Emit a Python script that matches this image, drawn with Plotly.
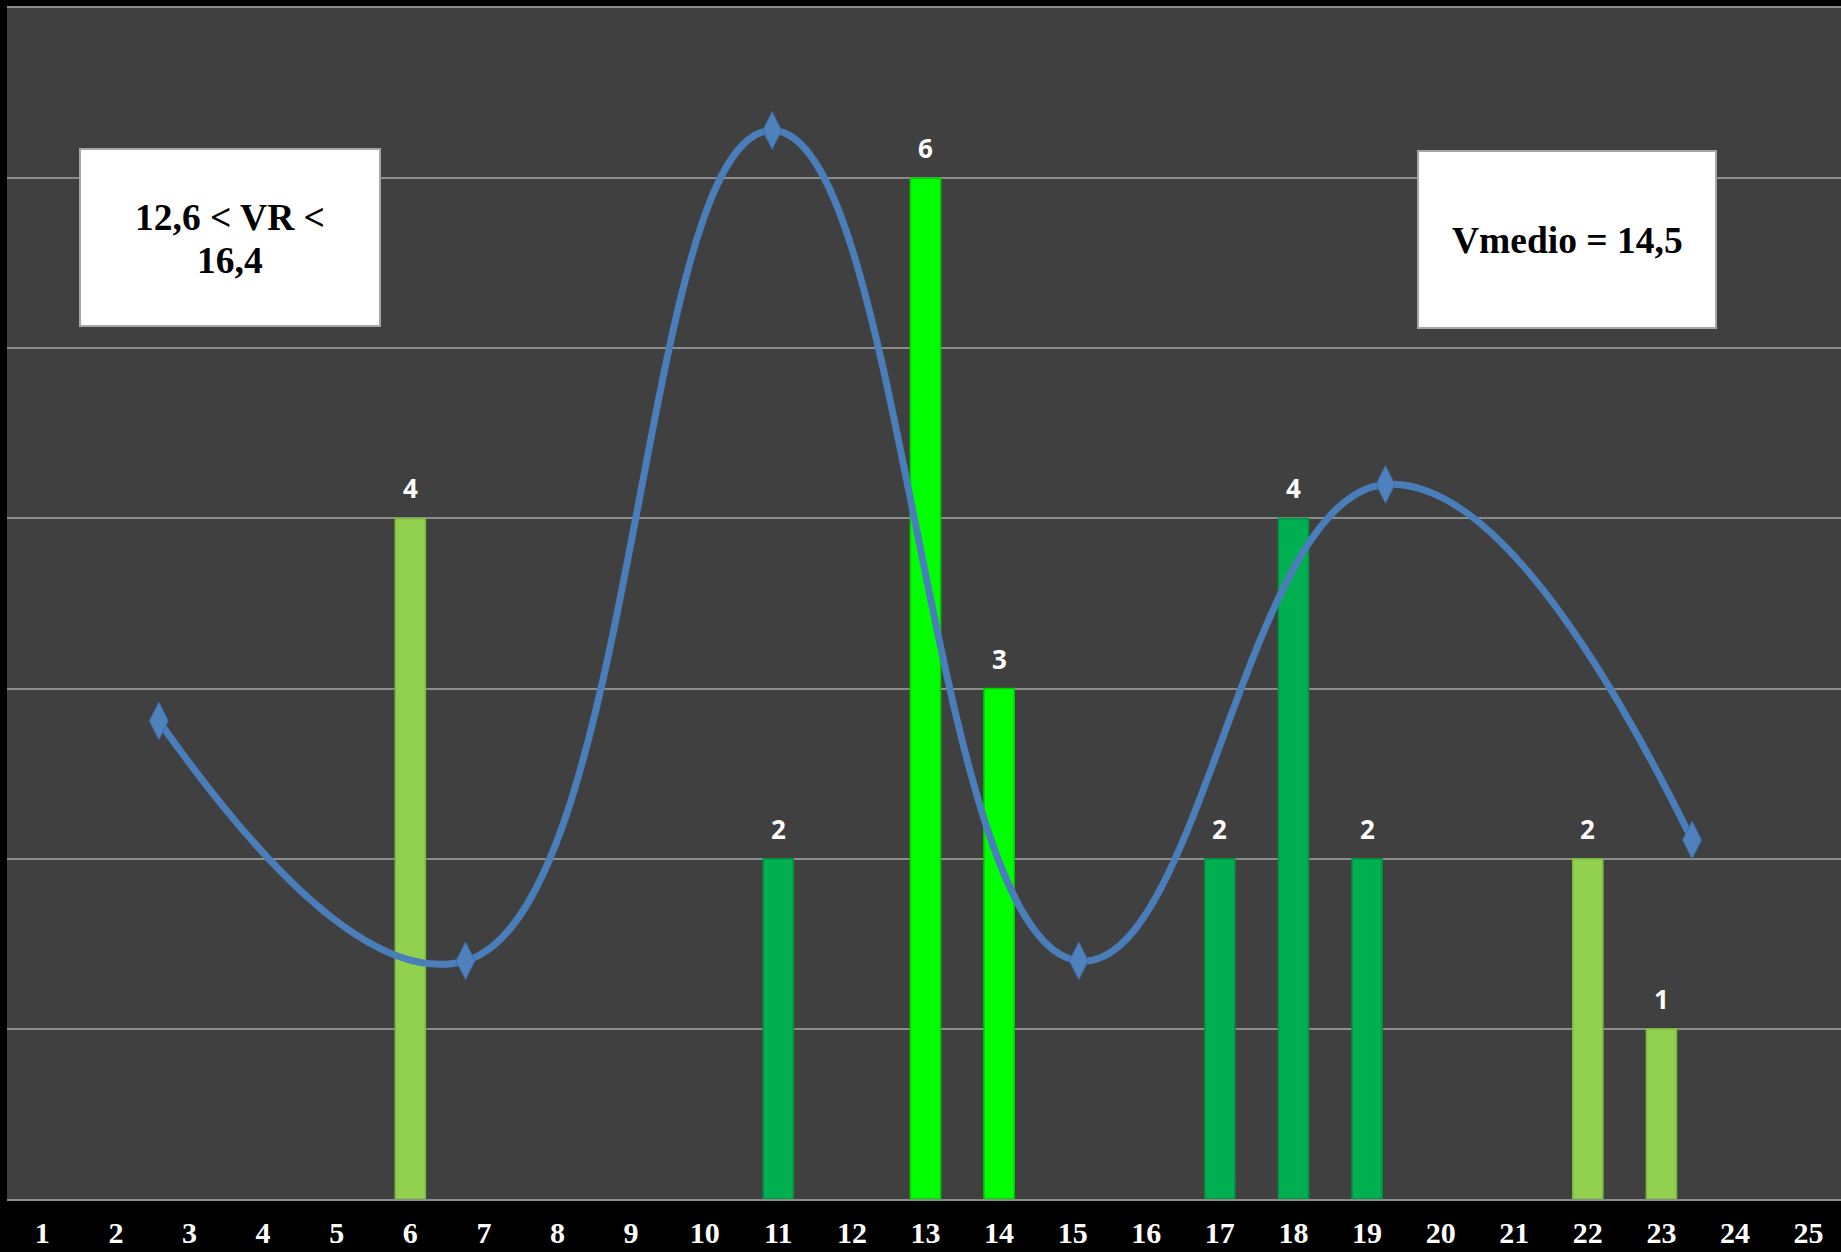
import plotly.graph_objects as go

# ---- data ----
categories = list(range(1, 26))
bar_values = [None, None, None, None, None, 4, None, None, None, None, 2, None, 6, 3,
              None, None, 2, 4, 2, None, None, 2, 1, None, None]
bar_colors = ["#92D050"] * 25
for c in (11, 17, 18, 19):
    bar_colors[c - 1] = "#00B050"
for c in (13, 14):
    bar_colors[c - 1] = "#00FF00"
edge_colors = {"#92D050": "#7AB83A", "#00B050": "#00903F", "#00FF00": "#00D000"}

line_x = [1, 2, 3, 4, 5, 6]
line_values = [2.81, 1.40, 6.28, 1.40, 4.20, 2.11]

box_left_lines = ["12,6 &lt; VR &lt;", "16,4"]
box_right_text = "Vmedio = 14,5"

# axis ranges (primary categories 1..25, secondary 6 groups spanning same width)
x_range = [0.52, 25.44]
x2_range = [0.5 + (x_range[0] - 0.5) * 6 / 25, 0.5 + (x_range[1] - 0.5) * 6 / 25]

# ---- figure ----
fig = go.Figure()

fig.add_trace(go.Bar(
    x=categories,
    y=bar_values,
    width=0.41,
    marker=dict(color=bar_colors,
                line=dict(color=[edge_colors[c] for c in bar_colors], width=1.5)),
    hoverinfo="skip",
))

fig.add_trace(go.Scatter(
    x=line_x,
    y=line_values,
    xaxis="x2",
    yaxis="y",
    mode="lines+markers",
    line=dict(color="#4A7EBB", width=7, shape="spline", smoothing=1.3),
    marker=dict(symbol="diamond-tall", size=27, color="#4F81BD",
                line=dict(color="#3B6AA8", width=1)),
    hoverinfo="skip",
))

annotations = []
for cat, v in zip(categories, bar_values):
    if v:
        annotations.append(dict(
            x=cat, y=v, xref="x", yref="y", text=str(v), showarrow=False,
            yanchor="middle", yshift=30,
            font=dict(family="Open Sans", size=26, color="white", weight="bold"),
        ))

box_font = dict(family="Liberation Serif", size=37.5, color="black", weight="bold")

# left box (frame) + two text lines
annotations.append(dict(
    x=0.1216, y=0.8073, xref="paper", yref="paper", xanchor="center", yanchor="middle",
    text=" ", showarrow=False,
    bgcolor="white", bordercolor="#A6A6A6", borderwidth=2, borderpad=0,
    width=298, height=175, font=box_font,
))
for yy, t in zip([0.8245, 0.7876], box_left_lines):
    annotations.append(dict(
        x=0.1216, y=yy, xref="paper", yref="paper", xanchor="center", yanchor="middle",
        text=t, showarrow=False, font=box_font,
    ))

# right box
annotations.append(dict(
    x=0.8506, y=0.8056, xref="paper", yref="paper", xanchor="center", yanchor="middle",
    text=" ", showarrow=False,
    bgcolor="white", bordercolor="#A6A6A6", borderwidth=2, borderpad=0,
    width=296, height=175, font=box_font,
))
annotations.append(dict(
    x=0.8506, y=0.8046, xref="paper", yref="paper", xanchor="center", yanchor="middle",
    text=box_right_text, showarrow=False, font=box_font,
))

fig.update_layout(
    width=1841, height=1252,
    margin=dict(l=7, r=0, t=8, b=53, autoexpand=False),
    paper_bgcolor="black",
    plot_bgcolor="#404040",
    showlegend=False,
    annotations=annotations,
    xaxis=dict(
        range=x_range, tickmode="array", tickvals=categories,
        ticktext=[str(c) for c in categories],
        showgrid=False, zeroline=False, automargin=False,
        showline=True, linecolor="#8C8C8C", linewidth=2, mirror=True,
        ticks="", ticklabelstandoff=6,
        tickfont=dict(family="Liberation Serif", size=30, color="white", weight="bold"),
    ),
    xaxis2=dict(
        overlaying="x", range=x2_range, visible=False, automargin=False,
    ),
    yaxis=dict(
        range=[0, 7], dtick=1, showticklabels=False, automargin=False,
        showgrid=True, gridcolor="#8C8C8C", gridwidth=2,
        zeroline=False,
    ),
)

post = (
    "document.documentElement.style.margin='0';"
    "document.documentElement.style.overflow='hidden';"
    "document.body.style.margin='0';"
    "document.body.style.overflow='hidden';"
    "document.body.style.background='black';"
)
fig.write_html("out.html", config={"displayModeBar": False}, post_script=post)
